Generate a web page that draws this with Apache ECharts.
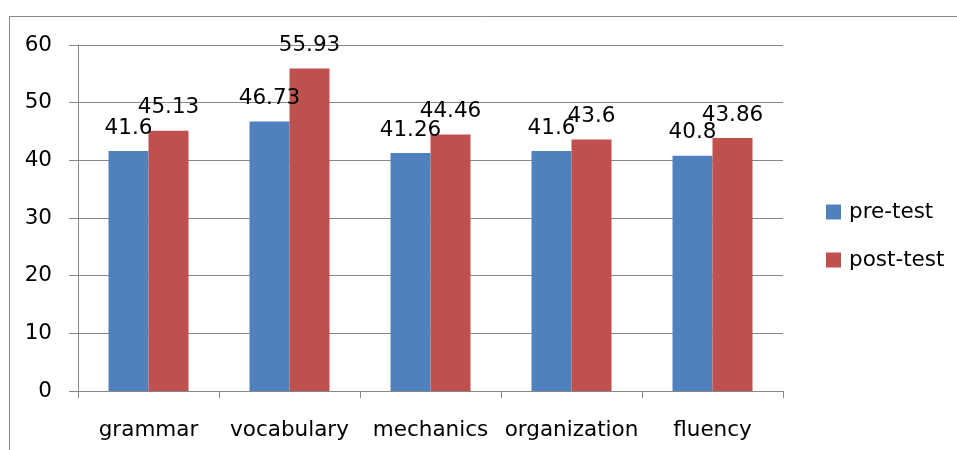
<!DOCTYPE html>
<html>
<head>
<meta charset="utf-8">
<script src="https://cdn.jsdelivr.net/npm/echarts@6/dist/echarts.min.js"></script>
<style>html,body{margin:0;padding:0;background:#fff;}#c{width:957px;height:450px;}</style>
</head>
<body>
<div id="c"></div>
<script>
var categories = ['grammar', 'vocabulary', 'mechanics', 'organization', 'fluency'];
var preTest = [41.6, 46.73, 41.26, 41.6, 40.8];
var postTest = [45.13, 55.93, 44.46, 43.6, 43.86];
var seriesNames = ['pre-test', 'post-test'];
var yTicks = {min: 0, max: 60, interval: 10};

var FONT = 'DejaVu Sans';
var FS = 21.5;
var chart = echarts.init(document.getElementById('c'), null, {renderer: 'canvas'});
var labelStyle = {show: true, position: 'top', distance: 12, color: '#000', fontFamily: FONT, fontSize: FS};
chart.setOption({
  animation: false,
  backgroundColor: '#fff',
  graphic: [{type: 'rect', shape: {x: 9.5, y: 16.5, width: 1000, height: 500}, style: {fill: 'none', stroke: '#8a8a8a', lineWidth: 1}, z: -1}],
  grid: {left: 78, right: 174, top: 45, bottom: 59, containLabel: false},
  legend: {
    orient: 'vertical', left: 821, top: 196, itemWidth: 15, itemHeight: 15, itemGap: 26,
    icon: 'rect',
    textStyle: {fontFamily: FONT, fontSize: FS, color: '#000', padding: [0, 0, 0, 3]},
    data: seriesNames
  },
  xAxis: {
    type: 'category', data: categories,
    axisLine: {lineStyle: {color: '#868686'}},
    axisTick: {show: true, length: 7, interval: 0, lineStyle: {color: '#868686'}},
    axisLabel: {fontFamily: FONT, fontSize: FS, color: '#000', margin: 28, interval: 0}
  },
  yAxis: {
    type: 'value', min: yTicks.min, max: yTicks.max, interval: yTicks.interval,
    axisLine: {show: true, lineStyle: {color: '#868686'}},
    axisTick: {show: true, length: 9, lineStyle: {color: '#868686'}},
    splitLine: {lineStyle: {color: '#868686'}},
    axisLabel: {fontFamily: FONT, fontSize: FS, color: '#000', margin: 26}
  },
  series: [
    {name: seriesNames[0], type: 'bar', data: preTest, barWidth: 40, barGap: '0%', itemStyle: {color: '#4F81BD'}, label: labelStyle},
    {name: seriesNames[1], type: 'bar', data: postTest, barWidth: 40, barGap: '0%', itemStyle: {color: '#C0504D'}, label: labelStyle}
  ]
});
</script>
</body>
</html>
